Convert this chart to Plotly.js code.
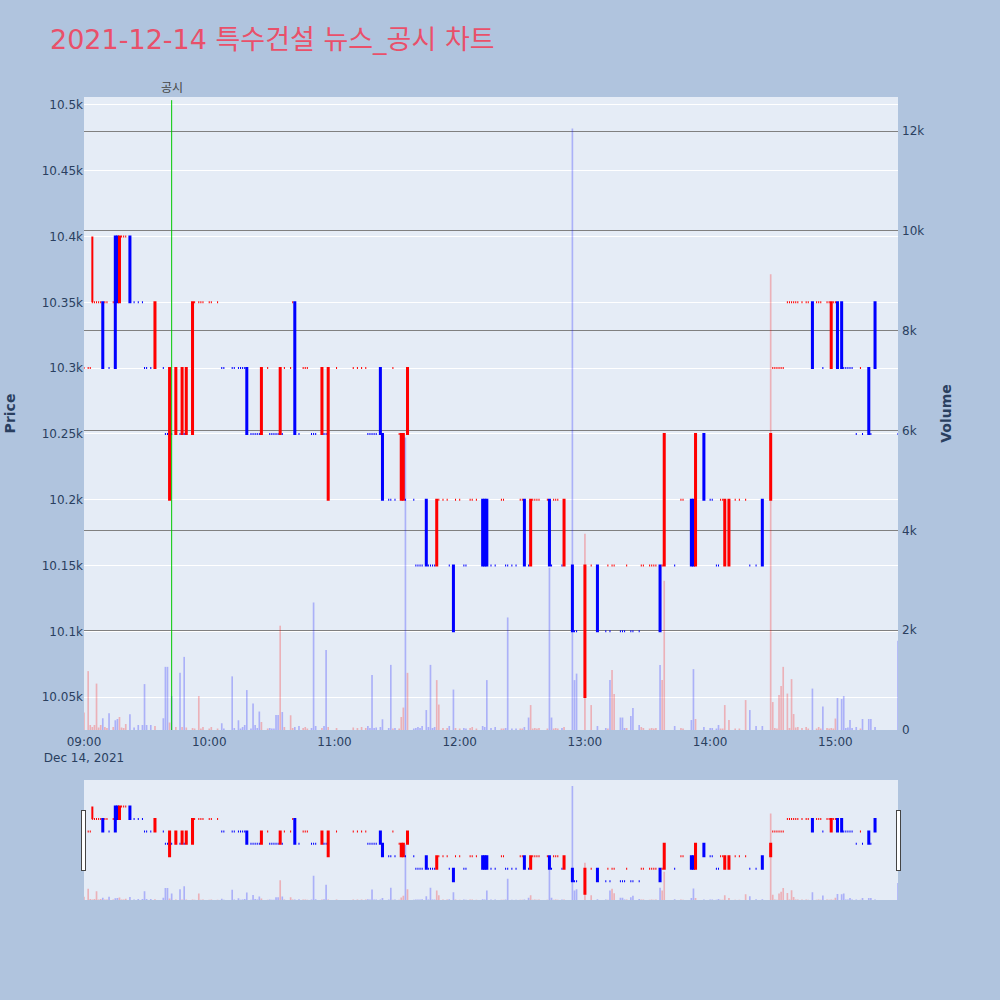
<!DOCTYPE html>
<html>
<head>
<meta charset="utf-8">
<script src="https://cdn.plot.ly/plotly-3.0.1.min.js"></script>
<style>html,body{margin:0;padding:0;background:#B0C4DE;}#chart{width:1000px;height:1000px;}</style>
</head>
<body>
<div id="chart"></div>
<script>
const day = '2021-12-14';
const title = '2021-12-14 특수건설 뉴스_공시 차트';
const noticeTime = '09:42';
const noticeLabel = '공시';

const times = [
 "09:00","09:02","09:03","09:04","09:05","09:06","09:07","09:08","09:09","09:10",
 "09:11","09:12","09:14","09:15","09:16","09:17","09:18","09:19","09:20","09:22",
 "09:24","09:26","09:28","09:29","09:30","09:32","09:34","09:38","09:39","09:40",
 "09:41","09:42","09:44","09:46","09:47","09:48","09:49","09:52","09:53","09:55",
 "09:56","09:57",
 "10:00","10:01","10:04","10:06","10:07","10:11","10:12","10:14","10:15","10:16",
 "10:17","10:18","10:20","10:21","10:22","10:23","10:24","10:25","10:28","10:29",
 "10:30","10:31","10:32","10:33","10:34","10:35","10:36","10:39","10:40","10:41",
 "10:43","10:45","10:46","10:47","10:49","10:50","10:51","10:54","10:55","10:56",
 "10:57",
 "11:01","11:09","11:11","11:13","11:15","11:16","11:17","11:18","11:19","11:20",
 "11:22","11:23","11:26","11:27","11:28","11:29","11:31","11:32","11:33","11:34",
 "11:35","11:38","11:39","11:40","11:41","11:42","11:44","11:45","11:46","11:47",
 "11:48","11:49","11:50","11:52","11:54","11:55","11:57","11:58",
 "12:00","12:02","12:03","12:05","12:06","12:08","12:11","12:12","12:13","12:15",
 "12:17","12:20","12:21","12:22","12:23","12:25","12:27","12:29","12:30","12:31",
 "12:33","12:34","12:35","12:36","12:37","12:38","12:42","12:43","12:44","12:45",
 "12:46","12:47","12:49","12:50","12:54","12:55","12:56",
 "13:00","13:03","13:06","13:10","13:11","13:12","13:13","13:14","13:17","13:18",
 "13:19","13:20","13:22","13:23","13:26","13:27","13:28","13:31","13:32","13:33",
 "13:34","13:36","13:37","13:38","13:43","13:46","13:47","13:51","13:52","13:53",
 "13:57",
 "14:00","14:01","14:03","14:04","14:05","14:06","14:07","14:09","14:12","14:14",
 "14:17","14:19","14:22","14:25","14:29","14:30","14:31","14:32","14:33","14:34",
 "14:35","14:37","14:38","14:39","14:40","14:41","14:42","14:44","14:46","14:47",
 "14:49","14:51","14:52","14:53","14:54","14:56","14:57","14:58","14:59",
 "15:00","15:01","15:03","15:04","15:05","15:06","15:07","15:08","15:10","15:12",
 "15:13","15:16","15:17","15:19","15:30"
];

const open = [
 10300,10300,10300,10350,10350,10350,10350,10350,10350,10350,
 10350,10300,10350,10400,10400,10350,10400,10400,10400,10400,
 10350,10350,10350,10300,10300,10300,10300,10300,10250,10250,
 10200,10250,10250,10250,10250,10250,10250,10250,10350,10350,
 10350,10350,
 10350,10350,10350,10300,10300,10300,10300,10300,10300,10300,
 10300,10300,10250,10250,10250,10250,10250,10250,10300,10250,
 10250,10250,10250,10250,10250,10250,10300,10300,10350,10350,
 10250,10300,10300,10300,10250,10250,10250,10250,10250,10250,
 10200,
 10300,10300,10300,10300,10300,10250,10250,10250,10250,10250,
 10300,10250,10200,10200,10300,10200,10250,10200,10200,10200,
 10250,10200,10150,10150,10150,10150,10200,10150,10150,10150,
 10150,10150,10200,10200,10200,10150,10150,10200,
 10200,10150,10150,10200,10200,10200,10200,10200,10200,10150,
 10150,10200,10200,10150,10150,10150,10150,10200,10200,10200,
 10150,10150,10200,10200,10200,10200,10200,10200,10150,10200,
 10200,10200,10150,10150,10150,10100,10100,
 10050,10150,10150,10100,10150,10100,10150,10150,10100,10100,
 10100,10150,10100,10100,10100,10150,10150,10150,10150,10150,
 10150,10150,10150,10150,10150,10200,10200,10200,10200,10150,
 10250,
 10200,10200,10150,10150,10200,10200,10150,10150,10200,10200,
 10200,10150,10150,10200,10200,10300,10300,10300,10300,10300,
 10300,10350,10350,10350,10350,10350,10350,10350,10350,10350,
 10350,10350,10350,10350,10300,10350,10350,10300,10350,
 10350,10350,10350,10300,10300,10300,10300,10300,10250,10300,
 10250,10300,10250,10350,10250
];

const high = [
 10300,10300,10300,10400,10350,10350,10350,10350,10350,10350,
 10350,10300,10350,10400,10400,10400,10400,10400,10400,10400,
 10350,10350,10350,10300,10300,10300,10350,10300,10250,10250,
 10300,10250,10300,10250,10300,10250,10300,10350,10350,10350,
 10350,10350,
 10350,10350,10350,10300,10300,10300,10300,10300,10300,10300,
 10300,10300,10250,10250,10250,10250,10250,10300,10300,10250,
 10250,10250,10250,10250,10300,10250,10300,10300,10350,10350,
 10250,10300,10300,10300,10250,10250,10250,10300,10250,10250,
 10300,
 10300,10300,10300,10300,10300,10250,10250,10250,10250,10250,
 10300,10250,10200,10200,10300,10200,10250,10250,10250,10200,
 10300,10200,10150,10150,10150,10150,10200,10150,10150,10150,
 10150,10200,10200,10200,10200,10150,10150,10200,
 10200,10150,10150,10200,10200,10200,10200,10200,10200,10150,
 10150,10200,10200,10150,10150,10150,10150,10200,10200,10200,
 10150,10200,10200,10200,10200,10200,10200,10200,10150,10200,
 10200,10200,10150,10200,10150,10100,10100,
 10150,10150,10150,10100,10150,10100,10150,10150,10100,10100,
 10100,10150,10100,10100,10100,10150,10150,10150,10150,10150,
 10150,10150,10150,10250,10150,10200,10200,10200,10200,10250,
 10250,
 10200,10200,10150,10150,10200,10200,10200,10200,10200,10200,
 10200,10150,10150,10200,10250,10300,10300,10300,10300,10300,
 10300,10350,10350,10350,10350,10350,10350,10350,10350,10350,
 10350,10350,10350,10350,10300,10350,10350,10350,10350,
 10350,10350,10350,10300,10300,10300,10300,10300,10250,10300,
 10250,10300,10250,10350,10250
];

const low = [
 10300,10300,10300,10350,10350,10350,10350,10350,10300,10350,
 10350,10300,10350,10300,10350,10350,10400,10400,10400,10350,
 10350,10350,10350,10300,10300,10300,10300,10300,10250,10250,
 10200,10250,10250,10250,10250,10250,10250,10250,10350,10350,
 10350,10350,
 10350,10350,10350,10300,10300,10300,10300,10300,10300,10300,
 10300,10250,10250,10250,10250,10250,10250,10250,10300,10250,
 10250,10250,10250,10250,10250,10250,10300,10300,10350,10250,
 10250,10300,10300,10300,10250,10250,10250,10250,10250,10250,
 10200,
 10300,10300,10300,10300,10300,10250,10250,10250,10250,10250,
 10250,10200,10200,10200,10300,10200,10250,10200,10200,10200,
 10250,10200,10150,10150,10150,10150,10150,10150,10150,10150,
 10150,10150,10200,10200,10200,10150,10100,10200,
 10200,10150,10150,10200,10200,10200,10150,10150,10150,10150,
 10150,10200,10200,10150,10150,10150,10150,10200,10200,10150,
 10150,10150,10200,10200,10200,10200,10200,10150,10150,10200,
 10200,10200,10150,10150,10100,10100,10100,
 10050,10150,10100,10100,10150,10100,10150,10150,10100,10100,
 10100,10150,10100,10100,10100,10150,10150,10150,10150,10150,
 10150,10100,10150,10150,10150,10200,10200,10150,10150,10150,
 10200,
 10200,10200,10150,10150,10200,10200,10150,10150,10200,10200,
 10200,10150,10150,10150,10200,10300,10300,10300,10300,10300,
 10300,10350,10350,10350,10350,10350,10350,10350,10350,10350,
 10300,10350,10350,10350,10300,10350,10350,10300,10350,
 10350,10300,10300,10300,10300,10300,10300,10300,10250,10300,
 10250,10250,10250,10300,10250
];

const close = [
 10300,10300,10300,10350,10350,10350,10350,10350,10300,10350,
 10350,10300,10350,10300,10350,10400,10400,10400,10400,10350,
 10350,10350,10350,10300,10300,10300,10350,10300,10250,10250,
 10300,10250,10300,10250,10300,10250,10300,10350,10350,10350,
 10350,10350,
 10350,10350,10350,10300,10300,10300,10300,10300,10300,10300,
 10300,10250,10250,10250,10250,10250,10250,10300,10300,10250,
 10250,10250,10250,10250,10300,10250,10300,10300,10350,10250,
 10250,10300,10300,10300,10250,10250,10250,10300,10250,10250,
 10300,
 10300,10300,10300,10300,10300,10250,10250,10250,10250,10250,
 10250,10200,10200,10200,10300,10200,10250,10250,10250,10200,
 10300,10200,10150,10150,10150,10150,10150,10150,10150,10150,
 10150,10200,10200,10200,10200,10150,10100,10200,
 10200,10150,10150,10200,10200,10200,10150,10150,10150,10150,
 10150,10200,10200,10150,10150,10150,10150,10200,10200,10150,
 10150,10200,10200,10200,10200,10200,10200,10150,10150,10200,
 10200,10200,10150,10200,10100,10100,10100,
 10150,10150,10100,10100,10150,10100,10150,10150,10100,10100,
 10100,10150,10100,10100,10100,10150,10150,10150,10150,10150,
 10150,10100,10150,10250,10150,10200,10200,10150,10150,10250,
 10200,
 10200,10200,10150,10150,10200,10200,10200,10200,10200,10200,
 10200,10150,10150,10150,10250,10300,10300,10300,10300,10300,
 10300,10350,10350,10350,10350,10350,10350,10350,10350,10350,
 10300,10350,10350,10350,10300,10350,10350,10350,10350,
 10350,10300,10300,10300,10300,10300,10300,10300,10250,10300,
 10250,10250,10250,10300,10250
];

const volume = [
 350,1180,100,60,100,930,50,100,235,60,
 40,335,60,195,220,260,50,40,120,315,
 50,100,100,920,100,100,80,235,1265,1265,
 150,680,60,1145,60,1465,50,40,30,680,
 30,60,
 30,60,30,135,30,1075,40,195,30,60,
 100,800,30,530,100,40,370,160,30,40,
 30,30,300,300,2090,360,60,295,40,60,
 80,40,60,30,40,2555,80,40,80,1605,
 60,
 40,50,40,60,40,80,40,1100,40,50,
 60,215,40,1305,30,40,30,260,450,5860,
 1145,30,40,60,40,80,400,60,1305,40,
 60,1000,510,40,40,80,810,40,
 30,40,30,40,60,30,80,60,1000,40,
 60,30,30,40,2255,30,30,30,30,60,
 250,500,30,40,30,40,30,3250,250,30,
 40,30,40,60,12050,1000,1130,
 3930,500,80,40,30,1000,1200,720,250,250,
 40,40,280,440,100,60,40,30,40,30,
 40,1300,1000,2990,80,40,30,200,1220,220,
 60,
 40,40,30,100,30,30,500,200,30,30,
 600,400,80,80,9130,560,40,30,700,880,
 1265,730,40,1020,320,50,60,40,60,30,
 830,30,60,30,470,40,30,40,30,
 230,640,620,680,40,50,200,40,60,30,
 220,220,220,60,1790
];

const x = times.map(t => day + ' ' + t);

// volume bar colour follows the candle direction (same rule plotly uses for doji candles)
let inc = true, prevClose = null;
const volColors = close.map((c, i) => {
  const o = open[i];
  if (c !== o) inc = c > o;
  else if (prevClose !== null && c !== prevClose) inc = c > prevClose;
  prevClose = c;
  return inc ? 'rgba(255,0,0,0.25)' : 'rgba(0,0,255,0.25)';
});

const xRange = [day + ' 09:00', day + ' 15:30'];
const FONT = '"DejaVu Sans", "Noto Sans CJK KR", sans-serif';

const traces = [
  {
    type: 'candlestick',
    x: x, open: open, high: high, low: low, close: close,
    increasing: {line: {color: 'red', width: 2}, fillcolor: 'red'},
    decreasing: {line: {color: 'blue', width: 2}, fillcolor: 'blue'},
    name: 'Price', showlegend: false, yaxis: 'y'
  },
  {
    type: 'bar',
    x: x, y: volume,
    marker: {color: volColors},
    name: 'Volume', showlegend: false, yaxis: 'y2'
  }
];

const layout = {
  width: 1000, height: 1000,
  paper_bgcolor: '#B0C4DE',
  plot_bgcolor: '#E5ECF6',
  font: {family: FONT, color: '#2a3f5f', size: 12},
  margin: {l: 84, r: 102, t: 97, b: 270, autoexpand: false},
  showlegend: false,
  title: {
    text: title, x: 0.05, xanchor: 'left', y: 0.96, yanchor: 'middle',
    font: {size: 27, color: '#E9506A', family: FONT}
  },
  xaxis: {
    type: 'date', range: xRange,
    showgrid: false, zeroline: false,
    ticklabelstandoff: 3,
    rangeslider: {visible: true, range: xRange, thickness: 0.19, bgcolor: '#E5ECF6'}
  },
  yaxis: {
    title: {text: '<b>Price</b>', font: {size: 14}, standoff: 22},
    range: [10025, 10506], dtick: 50,
    gridcolor: 'white', zeroline: false
  },
  yaxis2: {
    title: {text: '<b>Volume</b>', font: {size: 14}, standoff: 17},
    overlaying: 'y', side: 'right',
    range: [0, 12683], dtick: 2000,
    ticklabelstandoff: 3,
    gridcolor: 'grey', zeroline: false
  },
  shapes: [{
    type: 'line', xref: 'x', yref: 'paper', layer: 'above',
    x0: day + ' ' + noticeTime, x1: day + ' ' + noticeTime, y0: 0, y1: 0.995,
    line: {color: 'rgb(0,200,0)', width: 1}, opacity: 1
  }],
  annotations: [{
    text: noticeLabel, xref: 'x', yref: 'paper',
    x: day + ' ' + noticeTime, y: 1, yanchor: 'bottom',
    showarrow: false, font: {size: 12, color: '#444'}
  }]
};

Plotly.newPlot('chart', traces, layout, {displayModeBar: false});
</script>
</body>
</html>
